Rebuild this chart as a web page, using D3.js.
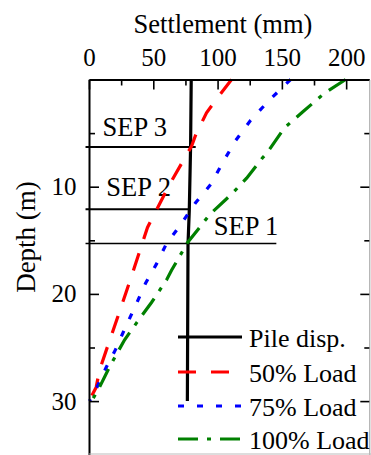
<!DOCTYPE html>
<html>
<head>
<meta charset="utf-8">
<script src="https://cdn.jsdelivr.net/npm/d3@7"></script>
<style>
  body { margin: 0; background: #fff; }
  svg text { font-family: 'Liberation Serif', 'Times New Roman', serif; fill: #000; }
</style>
</head>
<body>
<div id="chart"></div>
<script>
// depth (m) / settlement (mm) pairs
const pileDepth = [0, 6.3, 12.2, 15.4, 30];
const pileSettle = [79.5, 79, 78, 77, 76.5];

const load50Depth = [0, 1.45, 3.1, 5.2, 6.2, 9.8, 13.8, 17.5, 20, 22.2, 25.2, 27.1, 28.7, 30];
const load50Settle = [110.9, 101.6, 91.4, 82.9, 79.8, 62.6, 45.5, 35.4, 28.4, 22.2, 13.6, 8.2, 5.6, 0];

const load75Depth = [0, 1.9, 3.8, 5.7, 7.6, 9.8, 11.5, 13.7, 15.3, 17.2, 19, 21.1, 23.1, 25.2, 26.8, 28.8, 30];
const load75Settle = [156.8, 140.5, 125.7, 114, 104.7, 94.6, 82.9, 70.4, 60.3, 52.5, 44, 36.2, 28.4, 20.6, 13.6, 5.8, 0.4];

const load100Depth = [0, 1.26, 3.03, 4.5, 6.9, 7.3, 9.2, 10.6, 12.6, 13.8, 15.2, 17.8, 18.7, 20.8, 22.7, 24.3, 26.8, 28.7, 30];
const load100Settle = [199.6, 183.3, 166.1, 152.1, 138.1, 135, 122.6, 111.7, 93.8, 86, 76.7, 64.2, 60.3, 48.6, 37, 27.6, 16, 8.2, 2];

// separation levels: label, depth, settlement where the line stops
const sepLabels = ['SEP 3', 'SEP 2', 'SEP 1'];
const sepDepth = [6.3, 12.1, 15.3];
const sepEnd = [83, 78.2, 145.7];

const xTicks = [0, 50, 100, 150, 200];
const xMinor = [25, 75, 125, 175];
const yTicks = [10, 20, 30];
const yMinor = [5, 15, 25];

const legendLabels = ['Pile disp.', '50% Load', '75% Load', '100% Load'];

const width = 371;
const height = 455;
const serif = "'Liberation Serif', 'Times New Roman', serif";

const svg = d3.select('#chart')
  .append('svg')
  .attr('width', width)
  .attr('height', height)
  .attr('viewBox', [0, 0, width, height]);

const x = d3.scaleLinear()
  .domain([0, 218])
  .range([89, 369.3]);

const y = d3.scaleLinear()
  .domain([0, 35])
  .range([79.5, 454.7]);

const series = [
  { depth: pileDepth, settle: pileSettle, color: '#000', dash: null, width: 3.2 },
  { depth: load50Depth, settle: load50Settle, color: '#ff0000', dash: '18 15', width: 3.2 },
  { depth: load75Depth, settle: load75Settle, color: '#0000ff', dash: '6 13', width: 3.2 },
  { depth: load100Depth, settle: load100Settle, color: '#008000', dash: '20 9 4 9', width: 3.2 }
];

const line = d3.line()
  .x((d) => x(d[1]))
  .y((d) => y(d[0]));

// separation lines
sepLabels.forEach((label, i) => {
  svg.append('line')
    .attr('x1', x(-2.7))
    .attr('x2', x(sepEnd[i]))
    .attr('y1', y(sepDepth[i]))
    .attr('y2', y(sepDepth[i]))
    .attr('stroke', '#000')
    .attr('stroke-width', i === 2 ? 1.5 : 2);
});

svg.append('text').attr('x', x(10.5)).attr('y', 136).attr('font-size', 26.5).text(sepLabels[0]);
svg.append('text').attr('x', x(13.5)).attr('y', 196).attr('font-size', 26.5).text(sepLabels[1]);
svg.append('text').attr('x', x(97)).attr('y', 235).attr('font-size', 26.5).text(sepLabels[2]);

// curves
series.forEach((s) => {
  svg.append('path')
    .datum(s.depth.map((d, i) => [d, s.settle[i]]))
    .attr('d', line)
    .attr('fill', 'none')
    .attr('stroke', s.color)
    .attr('stroke-width', s.width)
    .attr('stroke-dasharray', s.dash);
});

// axes, ticks pointing inward
const styleAxis = (g) => g
  .attr('font-family', serif)
  .attr('font-size', 25)
  .call((g) => g.selectAll('text').style('font-family', serif).attr('fill', '#000'))
  .call((g) => g.selectAll('line').attr('stroke', '#000').attr('stroke-width', 1.6));

svg.append('g')
  .attr('transform', `translate(0,${y(0)})`)
  .call(d3.axisTop(x).tickValues(xTicks).tickSize(-10).tickSizeOuter(0).tickPadding(13.5))
  .call(styleAxis)
  .call((g) => g.select('.domain').attr('stroke', '#000').attr('stroke-width', 2));

svg.append('g')
  .attr('transform', `translate(0,${y(0)})`)
  .call(d3.axisTop(x).tickValues(xMinor).tickSize(-6).tickFormat(''))
  .call(styleAxis)
  .call((g) => g.select('.domain').remove());

svg.append('g')
  .attr('transform', `translate(${x(0)},0)`)
  .call(d3.axisLeft(y).tickValues(yTicks).tickSize(-10).tickSizeOuter(0).tickPadding(12.5))
  .call(styleAxis)
  .call((g) => g.select('.domain').attr('stroke', '#000').attr('stroke-width', 2));

svg.append('g')
  .attr('transform', `translate(${x(0)},0)`)
  .call(d3.axisLeft(y).tickValues(yMinor).tickSize(-6).tickFormat(''))
  .call(styleAxis)
  .call((g) => g.select('.domain').remove());

svg.append('g')
  .attr('transform', `translate(${x(218)},0)`)
  .call(d3.axisRight(y).tickValues(yTicks).tickSize(-9).tickSizeOuter(0).tickFormat(''))
  .call(styleAxis)
  .call((g) => g.select('.domain').attr('stroke', '#999').attr('stroke-width', 1));

svg.append('g')
  .attr('transform', `translate(${x(218)},0)`)
  .call(d3.axisRight(y).tickValues(yMinor).tickSize(-5).tickFormat(''))
  .call(styleAxis)
  .call((g) => g.select('.domain').remove());

// bottom frame edge
svg.append('line')
  .attr('x1', x(0)).attr('x2', width)
  .attr('y1', 454).attr('y2', 454)
  .attr('stroke', '#bbb');

// axis titles
svg.append('text')
  .attr('x', 223)
  .attr('y', 33)
  .attr('text-anchor', 'middle')
  .attr('font-size', 26.5)
  .text('Settlement (mm)');

svg.append('text')
  .attr('transform', `translate(35,237) rotate(-90)`)
  .attr('text-anchor', 'middle')
  .attr('font-size', 27)
  .text('Depth (m)');

// legend
const legendY = [337, 372, 406, 439];
const legend = svg.append('g');
series.forEach((s, i) => {
  legend.append('line')
    .attr('x1', 178).attr('x2', 242)
    .attr('y1', legendY[i]).attr('y2', legendY[i])
    .attr('stroke', s.color)
    .attr('stroke-width', s.width)
    .attr('stroke-dasharray', s.dash);
  legend.append('text')
    .attr('x', 249)
    .attr('y', legendY[i] + 9.5)
    .attr('font-size', 26)
    .text(legendLabels[i]);
});
</script>
</body>
</html>
